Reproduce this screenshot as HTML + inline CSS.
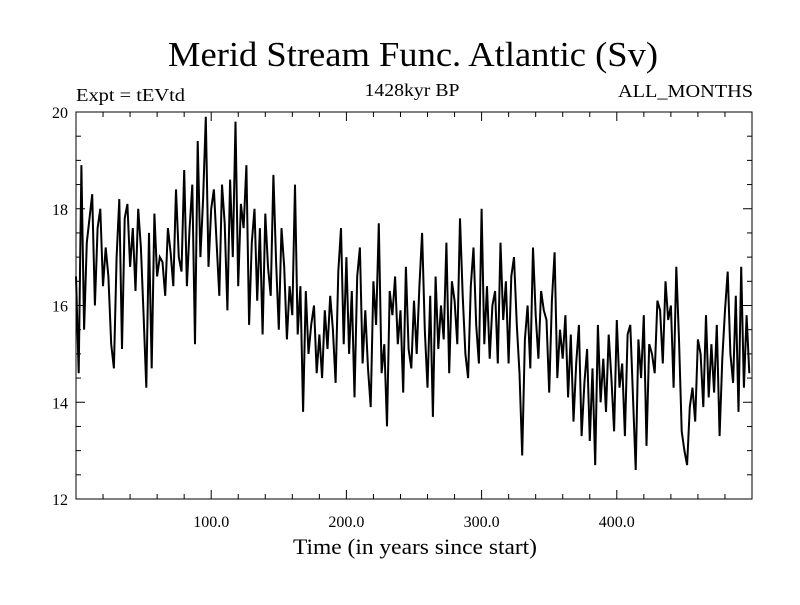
<!DOCTYPE html>
<html><head><meta charset="utf-8"><style>
body{margin:0;background:#fff}
svg text{font-family:"Liberation Serif",serif;fill:#000}
</style></head><body>
<svg id="chart" width="800" height="600" xmlns="http://www.w3.org/2000/svg">
<rect width="800" height="600" fill="#fff"/>
<text x="413" y="66" font-size="35" text-anchor="middle" textLength="490" lengthAdjust="spacingAndGlyphs">Merid Stream Func. Atlantic (Sv)</text>
<text x="76" y="101" font-size="18" textLength="109" lengthAdjust="spacingAndGlyphs">Expt = tEVtd</text>
<text x="412" y="96" font-size="18" text-anchor="middle" textLength="95" lengthAdjust="spacingAndGlyphs">1428kyr BP</text>
<text x="753" y="97" font-size="18" text-anchor="end" textLength="135" lengthAdjust="spacingAndGlyphs">ALL_MONTHS</text>
<text x="415" y="554" font-size="22" text-anchor="middle" textLength="244" lengthAdjust="spacingAndGlyphs">Time (in years since start)</text>
<g id="axes"></g>
<g id="series"></g>
<rect x="76" y="112" width="676" height="387" fill="none" stroke="#000" stroke-width="1"/>
</svg>
<script>
const yTickValues=[12,14,16,18,20];
const xTickValues=[100,200,300,400];
const xTickLabels=["100.0","200.0","300.0","400.0"];
const years=[];for(let i=0;i<250;i++)years.push(i*2);
const values=[
16.6,14.6,18.9,15.5,17.3,17.8,18.3,16.0,17.6,18.0,16.4,17.2,16.6,15.2,14.7,17.0,18.2,15.1,17.8,18.1,
16.8,17.6,16.3,18.0,17.2,15.8,14.3,17.5,14.7,17.9,16.6,17.0,16.9,16.2,17.6,17.1,16.4,18.4,17.0,16.7,
18.8,16.4,17.6,18.5,15.2,19.4,17.0,18.2,19.9,16.8,18.0,18.4,17.3,16.2,18.5,17.7,15.9,18.6,17.0,19.8,
16.4,18.1,17.6,18.9,15.6,17.3,18.0,16.1,17.6,15.4,17.9,16.8,16.2,18.7,16.9,15.5,17.6,16.8,15.3,16.4,
15.8,18.5,15.4,16.4,13.8,16.3,15.0,15.6,16.0,14.6,15.4,14.5,15.9,15.1,16.2,15.5,14.4,16.7,17.6,15.2,
17.0,15.0,16.3,14.1,16.6,17.2,14.8,15.9,14.7,13.9,16.5,15.6,17.7,14.6,15.2,13.5,16.3,15.8,16.6,15.2,
15.9,14.2,16.8,15.1,14.7,16.1,15.0,16.4,17.5,15.5,14.3,16.2,13.7,16.6,15.1,16.0,15.3,17.3,14.6,16.5,
16.1,15.2,17.8,16.2,15.0,14.5,16.4,17.2,15.6,14.8,18.0,15.2,16.4,14.9,16.0,16.3,14.8,17.3,15.7,16.5,
14.8,16.6,17.0,15.6,14.6,12.9,15.3,16.0,14.7,17.2,15.8,14.9,16.3,15.9,15.7,14.2,16.1,17.1,14.5,15.5,
14.9,15.8,14.1,15.4,13.6,14.8,15.6,13.3,14.4,15.1,13.2,14.7,12.7,15.6,14.0,14.9,13.8,15.4,14.5,13.4,
15.7,14.3,14.8,13.3,15.4,15.6,14.1,12.6,15.3,14.5,15.8,13.1,15.2,15.0,14.6,16.1,15.9,14.8,16.5,15.7,
16.0,14.3,16.8,15.3,13.4,13.0,12.7,13.9,14.3,13.6,15.3,15.0,13.9,15.8,14.1,15.2,14.2,15.6,13.3,14.9,
15.9,16.7,15.0,14.4,16.2,13.8,16.8,14.3,15.8,14.6];
const X0=76,X1=752,Y0=499,Y1=112;
function xs(v){return X0+(v-0)/(500-0)*(X1-X0);}
function ys(v){return Y0-(v-12)/(20-12)*(Y0-Y1);}
const NS="http://www.w3.org/2000/svg";
const axes=document.getElementById('axes');
function line(x1,y1,x2,y2,name){const l=document.createElementNS(NS,'line');
l.setAttribute('x1',x1);l.setAttribute('y1',y1);l.setAttribute('x2',x2);l.setAttribute('y2',y2);
l.setAttribute('stroke','#000');l.setAttribute('stroke-width','1');


axes.appendChild(l);}
for(let t=20;t<500;t+=20){const x=xs(t);const len=(t%100===0)?9:5;
line(x,Y0,x,Y0-len,'x-tick');line(x,Y1,x,Y1+len,'x-tick-top');}
for(let v=12.5;v<20;v+=0.5){const y=ys(v);const len=(v%2===0)?9:5;
line(X0,y,X0+len,y,'y-tick');line(X1,y,X1-len,y,'y-tick-right');}
yTickValues.forEach(v=>{const t=document.createElementNS(NS,'text');
t.setAttribute('x',68);t.setAttribute('y',ys(v)+6);t.setAttribute('text-anchor','end');t.setAttribute('font-size','16');
t.textContent=String(v);


axes.appendChild(t);});
xTickValues.forEach((v,i)=>{const t=document.createElementNS(NS,'text');
t.setAttribute('x',xs(v));t.setAttribute('y',527);t.setAttribute('text-anchor','middle');t.setAttribute('font-size','16');
t.textContent=xTickLabels[i];


axes.appendChild(t);});
const p=document.createElementNS(NS,'polyline');
p.setAttribute('points',values.map((v,i)=>xs(years[i]).toFixed(1)+','+ys(v).toFixed(1)).join(' '));
p.setAttribute('fill','none');p.setAttribute('stroke','#000');p.setAttribute('stroke-width','2');p.setAttribute('stroke-linejoin','miter');


document.getElementById('series').appendChild(p);
</script>
</body></html>
